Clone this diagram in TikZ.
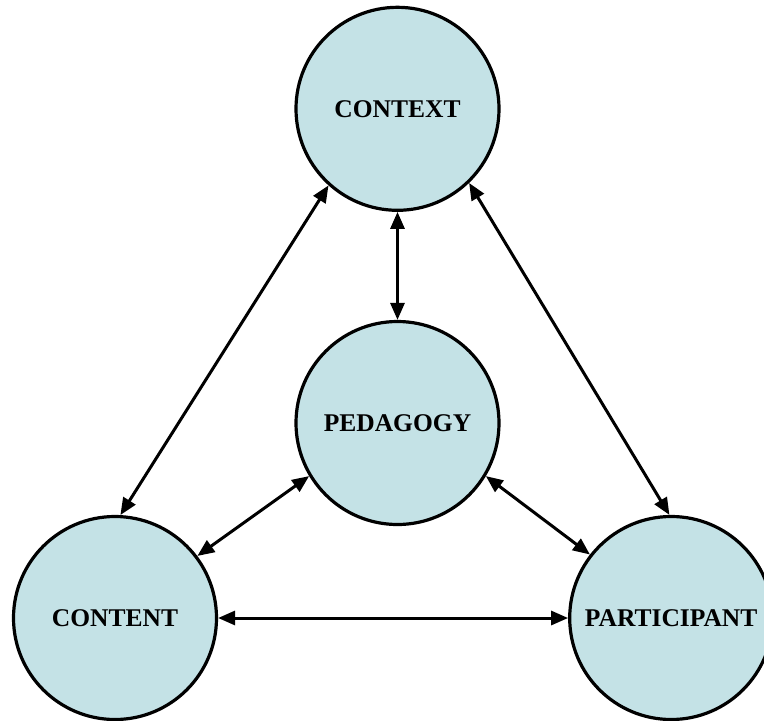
\documentclass[tikz,border=0pt]{standalone}
\usepackage{fontspec}
\setmainfont{Liberation Serif}
\usepackage{tikz}
\usepackage{xcolor}
\usetikzlibrary{arrows.meta,positioning}

\definecolor{hubfill}{RGB}{196,226,230}

\begin{document}
\begin{tikzpicture}[
    x=1pt, y=-1pt,
    hub/.style={circle, draw, line width=3.2pt, fill=hubfill,
                minimum size=203pt, inner sep=0pt,
                font=\fontsize{25.5}{30}\selectfont\bfseries},
    arr/.style={{Triangle[length=17pt,width=14pt]}-{Triangle[length=17pt,width=14pt]},
                line width=3pt}
]
\useasboundingbox (0,0) rectangle (764,721);

\node[hub] (pedagogy) at (397.5,423) {PEDAGOGY};
\node[hub, above=108pt of pedagogy] (context) {CONTEXT};
\node[hub] (content) at (115,618) {CONTENT};
\node[hub, right=350pt of content] (participant) {PARTICIPANT};

\draw[arr] (context) -- (pedagogy);
\draw[arr] (context.228) -- (content.87);
\draw[arr] (context.314) -- (participant.91);
\draw[arr] (pedagogy.211) -- (content.37);
\draw[arr] (pedagogy.329) -- (participant.142);
\draw[arr] (content) -- (participant);

\end{tikzpicture}
\end{document}
